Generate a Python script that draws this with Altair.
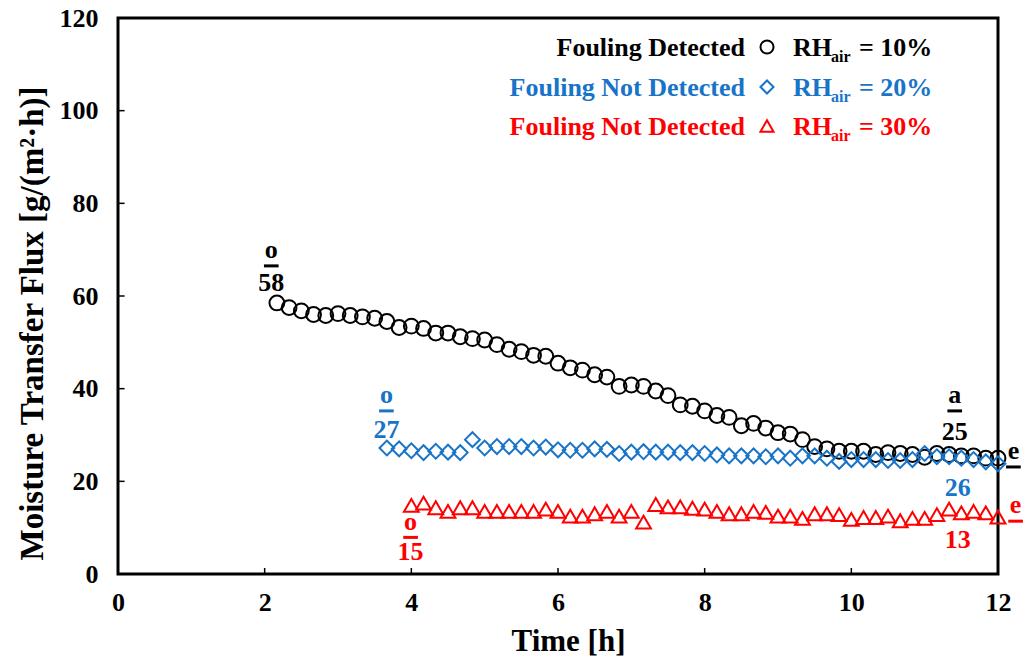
import altair as alt
import pandas as pd

# ---- data (time in hours, flux in g/(m2 h)) ----
t_black = [round(2 + i / 6, 4) for i in range(1, 61)]  # 2.17 .. 12.0 (10-min steps)
f_black = [58.5, 57.5, 56.8, 56.0, 55.8, 56.2, 55.8, 55.5, 55.2, 54.5,
           53.2, 53.5, 53.0, 52.0, 52.0, 51.2, 50.8, 50.5, 49.5, 48.5,
           48.0, 47.2, 47.0, 45.5, 44.5, 44.0, 43.0, 42.5, 40.5, 40.8,
           40.5, 39.5, 38.5, 36.5, 36.2, 35.2, 34.2, 33.8, 32.0, 32.5,
           31.5, 30.5, 30.2, 29.0, 27.5, 27.0, 26.5, 26.5, 26.5, 25.8,
           26.2, 26.0, 25.8, 25.2, 26.0, 25.8, 25.5, 25.5, 25.0, 25.0]

t_blue = [round(3 + i / 6, 4) for i in range(4, 55)]  # 3.67 .. 12.0
f_blue = [27.2, 27.0, 26.6, 26.2, 26.5, 26.3, 26.2, 29.0, 27.2, 27.5,
          27.5, 27.5, 27.2, 27.4, 26.8, 26.7, 26.7, 27.0, 26.9, 26.0,
          26.3, 26.4, 26.3, 26.3, 26.2, 26.2, 26.0, 25.7, 25.5, 25.5,
          25.5, 25.3, 25.5, 25.0, 25.5, 25.5, 25.0, 24.3, 24.7, 24.7,
          24.7, 24.5, 24.5, 24.7, 26.0, 25.3, 25.3, 25.0, 24.7, 24.2, 23.8]

t_red = [round(4 + i / 6, 4) for i in range(0, 49)]  # 4.0 .. 12.0
f_red = [14.8, 15.3, 14.3, 13.5, 14.3, 14.3, 13.5, 13.5, 13.5, 13.5,
         13.5, 14.0, 13.5, 12.5, 12.5, 13.0, 13.5, 12.5, 13.5, 11.2,
         15.0, 14.5, 14.5, 14.2, 14.0, 13.5, 13.0, 13.0, 13.5, 13.3,
         12.5, 12.5, 12.0, 13.0, 13.0, 12.8, 11.8, 12.2, 12.2, 12.5,
         11.5, 12.0, 12.0, 12.8, 14.0, 13.2, 13.5, 13.2, 12.3]

series_names = ["RH10", "RH20", "RH30"]
series_colors = ["#000000", "#1874C8", "#FF0000"]
series_shapes = ["circle", "diamond", "triangle-up"]

legend_left = ["Fouling Detected", "Fouling Not Detected", "Fouling Not Detected"]
legend_right = ["= 10%", "= 20%", "= 30%"]

# annotations: text, x, y, colour index
ann_text = ["o", "58", "o", "27", "o", "15", "a", "25", "e", "26", "e", "13"]
ann_x = [2.09, 2.09, 3.66, 3.66, 3.99, 3.99, 11.41, 11.41, 12.21, 11.45, 12.24, 11.45]
ann_y = [70.0, 62.8, 38.7, 31.1, 11.3, 4.8, 38.7, 30.6, 26.5, 18.6, 14.8, 7.3]
ann_c = [0, 0, 1, 1, 2, 2, 0, 0, 0, 1, 2, 2]
# underlines for the letters
ul_x = [2.09, 3.66, 3.99, 11.41, 12.21, 12.24]
ul_y = [66.5, 35.2, 7.9, 35.2, 23.1, 11.4]
ul_c = [0, 1, 2, 0, 0, 2]

x_ticks = [0, 2, 4, 6, 8, 10, 12]
y_ticks = [0, 20, 40, 60, 80, 100, 120]

# ---- tables ----
df = pd.concat([
    pd.DataFrame({"t": t_black, "f": f_black, "s": series_names[0]}),
    pd.DataFrame({"t": t_blue, "f": f_blue, "s": series_names[1]}),
    pd.DataFrame({"t": t_red, "f": f_red, "s": series_names[2]}),
])
ann = pd.DataFrame({"text": ann_text, "x": ann_x, "y": ann_y,
                    "color": [series_colors[i] for i in ann_c]})
ul = pd.DataFrame({"x": [v - 0.1 for v in ul_x], "x2": [v + 0.1 for v in ul_x], "y": ul_y,
                   "color": [series_colors[i] for i in ul_c]})
xt = pd.DataFrame({"x": x_ticks[1:-1], "y": [0] * 5, "y2": [1.3] * 5})
yt = pd.DataFrame({"y": y_ticks[1:-1], "x": [0] * 5, "x2": [0.09] * 5})
one = pd.DataFrame({"k": [0]})

FONT = "Liberation Serif"
xs = alt.Scale(domain=[0, 12], nice=False)
ys = alt.Scale(domain=[0, 120], nice=False)

points = alt.Chart(df).mark_point(size=220, strokeWidth=2, filled=False, opacity=1).encode(
    x=alt.X("t:Q", scale=xs, title="Time [h]",
            axis=alt.Axis(values=x_ticks, format="d", ticks=False, domain=False, grid=False,
                          labelFlush=False, labelPadding=15, titlePadding=11,
                          titleFontSize=31, titleX=450)),
    y=alt.Y("f:Q", scale=ys, title="Moisture Transfer Flux [g/(m²·h)]",
            axis=alt.Axis(values=y_ticks, format="d", ticks=False, domain=False, grid=False,
                          labelFlush=False, labelPadding=20, titlePadding=10,
                          titleFontSize=33, titleY=305)),
    color=alt.Color("s:N", scale=alt.Scale(domain=series_names, range=series_colors), legend=None),
    shape=alt.Shape("s:N", scale=alt.Scale(domain=series_names, range=series_shapes), legend=None),
)

xtick = alt.Chart(xt).mark_rule(color="black", strokeWidth=1.5).encode(
    x=alt.X("x:Q", scale=xs), y=alt.Y("y:Q", scale=ys), y2="y2:Q")
ytick = alt.Chart(yt).mark_rule(color="black", strokeWidth=1.5).encode(
    y=alt.Y("y:Q", scale=ys), x=alt.X("x:Q", scale=xs), x2="x2:Q")

ann_layer = alt.Chart(ann).mark_text(font=FONT, fontWeight="bold", fontSize=26,
                                     align="center", baseline="middle").encode(
    x=alt.X("x:Q", scale=xs), y=alt.Y("y:Q", scale=ys),
    text="text:N", color=alt.Color("color:N", scale=None))
ul_layer = alt.Chart(ul).mark_rule(strokeWidth=3).encode(
    x=alt.X("x:Q", scale=xs), x2="x2:Q", y=alt.Y("y:Q", scale=ys),
    color=alt.Color("color:N", scale=None))

# ---- manual legend (pixel layout inside plot area) ----
row_y = [30, 70, 109]
leg = []
for i in range(3):
    c = series_colors[i]
    leg.append(alt.Chart(one).mark_text(text=legend_left[i], font=FONT, fontWeight="bold",
                                          fontSize=26, align="right", baseline="middle",
                                          color=c).encode(x=alt.value(627), y=alt.value(row_y[i])))
    leg.append(alt.Chart(one).mark_point(shape=series_shapes[i], size=170, strokeWidth=2,
                                           filled=False, color=c, opacity=1).encode(
        x=alt.value(649), y=alt.value(row_y[i] - 1)))
    leg.append(alt.Chart(one).mark_text(text="RH", font=FONT, fontWeight="bold",
                                          fontSize=26, align="left", baseline="middle",
                                          color=c).encode(x=alt.value(675), y=alt.value(row_y[i])))
    leg.append(alt.Chart(one).mark_text(text="air", font=FONT, fontWeight="bold",
                                          fontSize=16, align="left", baseline="middle",
                                          color=c).encode(x=alt.value(713), y=alt.value(row_y[i] + 9)))
    leg.append(alt.Chart(one).mark_text(text=legend_right[i], font=FONT, fontWeight="bold",
                                          fontSize=26, align="left", baseline="middle",
                                          color=c).encode(x=alt.value(741), y=alt.value(row_y[i])))

chart = alt.layer(points, xtick, ytick, ul_layer, ann_layer, *leg).properties(
    width=880, height=556,
    padding={"left": 118, "top": 18, "right": 25, "bottom": 90},
    autosize=alt.AutoSizeParams(type="none"),
    background="white",
).configure_view(stroke="black", strokeWidth=3).configure_axis(
    labelFont=FONT, labelFontWeight="bold", labelFontSize=26, labelColor="black",
    titleFont=FONT, titleFontWeight="bold", titleColor="black",
)

chart.save("out.html", embed_options={"renderer": "svg", "actions": False})
